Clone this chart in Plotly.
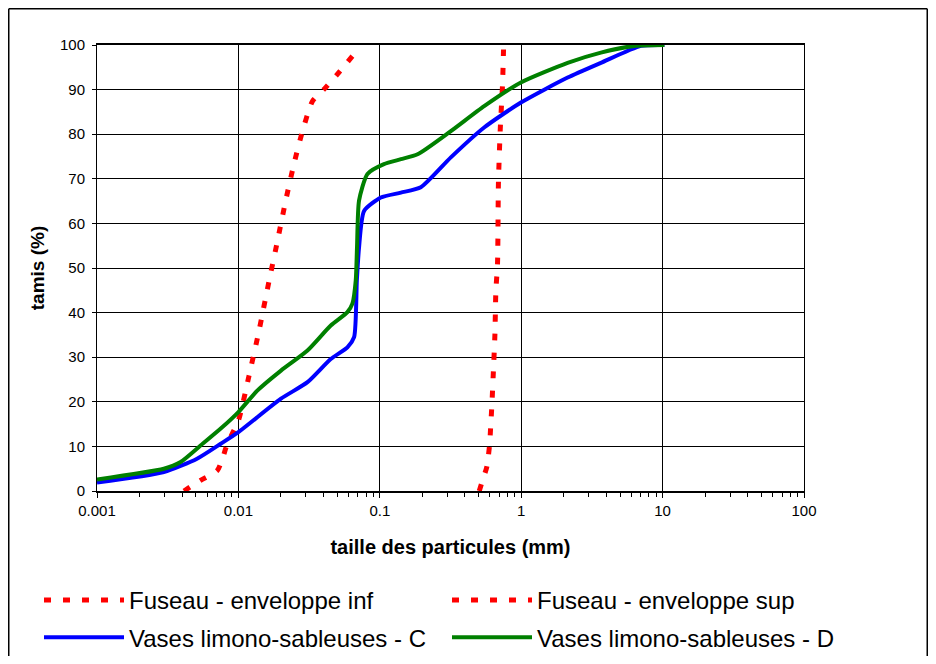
import plotly.graph_objects as go

# Fuseau - enveloppe inf
inf_x = [0.00412, 0.0054, 0.0071, 0.00836, 0.0100, 0.0119, 0.0140, 0.0165, 0.0189, 0.0216, 0.0247, 0.0284, 0.0334, 0.0404, 0.0500, 0.0640]
inf_y = [0, 2.4, 4.6, 10.6, 15.8, 25.9, 36.0, 47.2, 56.1, 65.1, 73.3, 80.7, 87.4, 90.1, 93.4, 97.5]

# Fuseau - enveloppe sup
sup_x = [0.505, 0.533, 0.571, 0.597, 0.610, 0.621, 0.640, 0.652, 0.662, 0.680, 0.690, 0.710, 0.738, 0.750]
sup_y = [0, 2.4, 5.4, 10.2, 15.1, 19.6, 28.9, 35.2, 44.9, 50.9, 68.8, 80.7, 91.2, 99.0]

# Vases limono-sableuses - C
c_x = [0.001, 0.00297, 0.0051, 0.0075, 0.0100, 0.0200, 0.0308, 0.0450, 0.0590, 0.0658, 0.0688, 0.0713, 0.0774, 0.1017, 0.141, 0.195, 0.318, 0.547, 0.995, 2.13, 3.66, 7.03, 10.3]
c_y = [1.9, 4.25, 7.25, 10.6, 13.2, 20.7, 24.4, 29.6, 32.2, 34.5, 47.2, 54.6, 62.8, 65.8, 66.9, 68.1, 74.8, 81.5, 87.1, 92.7, 96.0, 99.8, 100]

# Vases limono-sableuses - D
d_x = [0.001, 0.00297, 0.0039, 0.0054, 0.0075, 0.0100, 0.0136, 0.0200, 0.0308, 0.0450, 0.0590, 0.0640, 0.0676, 0.0690, 0.0713, 0.0818, 0.107, 0.141, 0.185, 0.318, 0.547, 0.995, 2.13, 3.66, 6.3, 10.3]
d_y = [2.6, 5.0, 6.5, 10.2, 14.0, 17.7, 22.5, 27.0, 31.5, 37.1, 40.1, 42.0, 47.2, 54.6, 65.1, 71.1, 73.3, 74.4, 75.5, 80.7, 86.3, 91.6, 96.0, 98.3, 99.8, 100]

x_tickvals = [0.001, 0.01, 0.1, 1, 10, 100]
x_ticktext = ["0.001", "0.01", "0.1", "1", "10", "100"]
y_tickvals = [0, 10, 20, 30, 40, 50, 60, 70, 80, 90, 100]

FONT = "Liberation Sans, Arial, sans-serif"
OFF = 7  # page offset of the figure (body margin)
W, H = 920, 648
# target plot area on the page: x 96..803, y 44..490
L = 96 - OFF
T = 44 - OFF
R = W - (803 - OFF)
B = H - (490 - OFF)
PW, PH = W - L - R, H - T - B

def px_x(page_x):
    return (page_x - OFF - L) / PW

def px_y(page_y):
    return (H - B - (page_y - OFF)) / PH

fig = go.Figure()
dash_red = "7px,12px"
fig.add_trace(go.Scatter(x=inf_x, y=inf_y, mode="lines", name="Fuseau - enveloppe inf",
                         legend="legend", legendgroup="a",
                         line=dict(color="#ff0000", width=5, dash=dash_red, shape="spline", smoothing=0.6)))
fig.add_trace(go.Scatter(x=sup_x, y=sup_y, mode="lines", name="Fuseau - enveloppe sup",
                         legend="legend2", legendgroup="b",
                         line=dict(color="#ff0000", width=5, dash=dash_red, shape="spline", smoothing=0.6)))
fig.add_trace(go.Scatter(x=c_x, y=c_y, mode="lines", name="Vases limono-sableuses - C",
                         legend="legend", legendgroup="c",
                         line=dict(color="#0000ff", width=4, shape="spline", smoothing=0.6)))
fig.add_trace(go.Scatter(x=d_x, y=d_y, mode="lines", name="Vases limono-sableuses - D",
                         legend="legend2", legendgroup="d",
                         line=dict(color="#008000", width=4, shape="spline", smoothing=0.6)))

leg_common = dict(
    orientation="v", yanchor="top", xanchor="left",
    font=dict(family=FONT, size=24, color="black"),
    itemwidth=80, traceorder="grouped", tracegroupgap=3,
    bgcolor="rgba(0,0,0,0)",
)

border = dict(color="black", width=1.5)
x_left, x_right = px_x(OFF + 0.75), px_x(OFF + W - 0.75)
y_top, y_bot = px_y(OFF + 0.75), px_y(OFF + H + 20)

fig.update_layout(
    width=W, height=H,
    margin=dict(l=L, r=R, t=T, b=B, autoexpand=False),
    paper_bgcolor="white", plot_bgcolor="white",
    font=dict(family=FONT, color="black", size=15),
    showlegend=True,
    legend=dict(x=px_x(38), y=px_y(577), **leg_common),
    legend2=dict(x=px_x(446), y=px_y(577), **leg_common),
    xaxis=dict(
        type="log", range=[-3, 2], tickmode="array", tickvals=x_tickvals, ticktext=x_ticktext,
        showgrid=True, gridcolor="black", gridwidth=1,
        showline=True, linecolor="black", linewidth=2, mirror=True,
        ticks="outside", ticklen=5, tickcolor="black",
        minor=dict(ticks="outside", ticklen=4, tickcolor="black", dtick="D1", showgrid=False),
        tickfont=dict(family=FONT, size=15),
        title=dict(text="<b>taille des particules (mm)</b>", font=dict(family=FONT, size=20), standoff=22),
        zeroline=False,
    ),
    yaxis=dict(
        range=[0, 100], tickmode="array", tickvals=y_tickvals,
        showgrid=True, gridcolor="black", gridwidth=1,
        showline=True, linecolor="black", linewidth=1, mirror=True,
        ticks="outside", ticklen=4, tickcolor="black", ticklabelstandoff=4,
        tickfont=dict(family=FONT, size=15),
        title=dict(text="<b>tamis (%)</b>", font=dict(family=FONT, size=19), standoff=10),
        zeroline=False,
    ),
    shapes=[
        dict(type="line", xref="paper", yref="paper", x0=x_left, x1=x_left, y0=y_bot, y1=y_top, line=border),
        dict(type="line", xref="paper", yref="paper", x0=x_left, x1=x_right, y0=y_top, y1=y_top, line=border),
        dict(type="line", xref="paper", yref="paper", x0=x_right, x1=x_right, y0=y_bot, y1=y_top, line=border),
    ],
)

fig.write_html("out.html")
